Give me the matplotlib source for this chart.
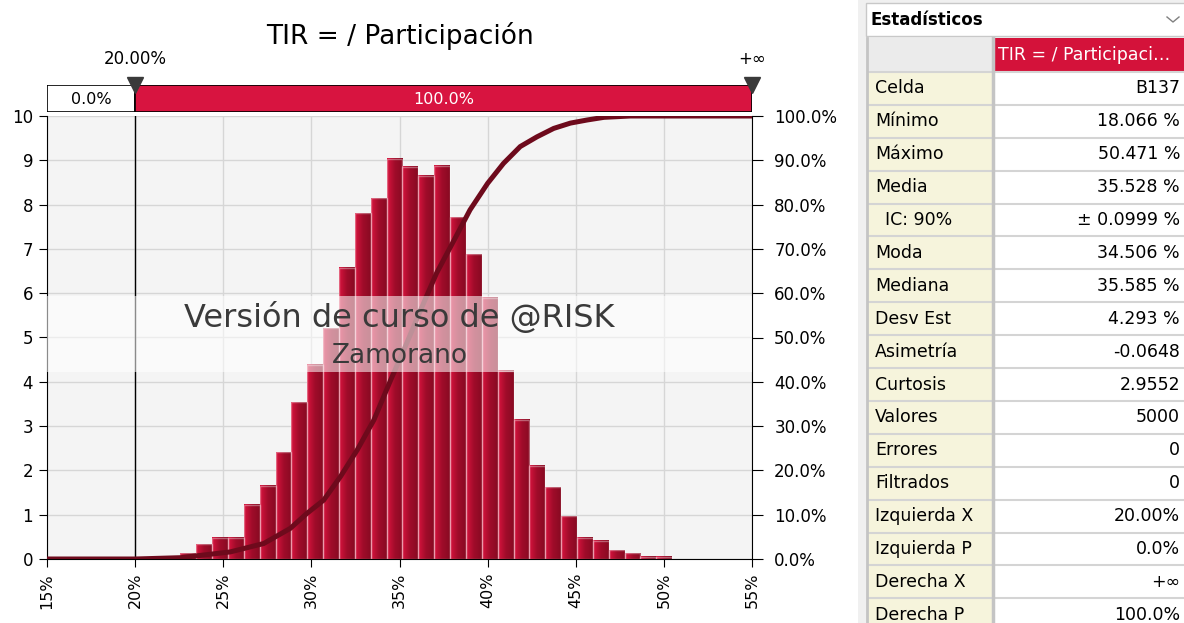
import numpy as np
import matplotlib.pyplot as plt
from matplotlib.patches import Rectangle
from matplotlib.colors import LinearSegmentedColormap

# histogram of TIR (% of values per percentage point), 36 bins from the minimum
bin_start = 18.066
bin_width = 0.9001
density = [0.02, 0.02, 0.02, 0.04, 0.04,
           0.13, 0.33, 0.48, 0.48, 1.23, 1.65, 2.41, 3.54, 4.39, 5.21, 6.58,
           7.80, 8.14, 9.04, 8.86, 8.65, 8.88, 7.71, 6.88, 5.90, 4.25, 3.14,
           2.11, 1.62, 0.96, 0.48, 0.41, 0.20, 0.13, 0.05, 0.05]

# cumulative curve (right axis, %)
cdf_x = [15.0, 20.0, 22.6, 25.4, 27.3, 28.8, 29.75, 30.7, 31.65, 32.6, 33.55,
         34.5, 35.25, 36.2, 37.1, 38.1, 39.0, 40.0, 40.9, 41.85, 42.8, 43.75,
         44.7, 45.65, 46.6, 48.1, 55.0]
cdf_y = [0.0, 0.0, 0.3, 1.6, 3.5, 6.9, 10.3, 13.3, 18.6, 24.6, 31.4,
         40.4, 47.2, 56.2, 64.5, 72.0, 78.8, 84.8, 89.3, 93.1, 95.3, 97.2,
         98.4, 99.1, 99.7, 100.0, 100.0]

x_ticks = [15, 20, 25, 30, 35, 40, 45, 50, 55]
left_x = 20.0
left_p = "0.0%"
right_p = "100.0%"

stat_names = ["Celda", "Mínimo", "Máximo", "Media", "IC: 90%", "Moda", "Mediana",
              "Desv Est", "Asimetría", "Curtosis", "Valores", "Errores", "Filtrados",
              "Izquierda X", "Izquierda P", "Derecha X", "Derecha P"]
stat_values = ["B137", "18.066 %", "50.471 %", "35.528 %", "± 0.0999 %", "34.506 %",
               "35.585 %", "4.293 %", "-0.0648", "2.9552", "5000", "0", "0",
               "20.00%", "0.0%", "+∞", "100.0%"]

RED = "#d81440"
W, H = 1184, 623
fig = plt.figure(figsize=(W / 100, H / 100), dpi=100)
plt.rcParams['font.family'] = ['DejaVu Sans']

L, R, T, B = 47, 752, 116, 559
ax = fig.add_axes([L / W, 1 - B / H, (R - L) / W, (B - T) / H])
ax.set_facecolor("#f4f4f4")
ax.set_xlim(15, 55)
ax.set_ylim(0, 10)
ax.set_axisbelow(True)
ax.grid(True, color="#d6d6d6", lw=1)
ax.set_xticks(x_ticks)
ax.set_xticklabels([f"{t}%" for t in x_ticks], rotation=90, fontsize=11.5)
ax.set_yticks(range(11))
ax.tick_params(axis='y', labelsize=12, length=6, color='black', pad=4)
ax.tick_params(axis='x', length=6, color='black', pad=4)
for s in ['top', 'right']:
    ax.spines[s].set_visible(False)
for s in ['left', 'bottom']:
    ax.spines[s].set_color('black')

# bars with a left-to-right shading
cmap = LinearSegmentedColormap.from_list("bar", ["#d8143e", "#a00c2a", "#880a22"])
grad = np.linspace(0, 1, 64).reshape(1, -1)
for i, h in enumerate(density):
    x0 = bin_start + i * bin_width
    ax.imshow(grad, extent=(x0, x0 + bin_width, 0, h), aspect='auto', cmap=cmap,
              interpolation='bilinear', zorder=2)
lefts = [bin_start + i * bin_width for i in range(len(density))]
ax.bar(lefts, density, width=bin_width, align='edge', facecolor='none',
       edgecolor=(1, 1, 1, 0.35), lw=1, zorder=2.5)
ax.set_xlim(15, 55)
ax.set_ylim(0, 10)
ax.axvline(left_x, color='black', lw=1, zorder=4)

ax2 = ax.twinx()
ax2.set_ylim(0, 100)
ax2.set_yticks(range(0, 101, 10))
ax2.set_yticklabels([f"{v:.1f}%" for v in range(0, 101, 10)])
ax2.tick_params(axis='y', labelsize=12, length=8, pad=8)
for s in ['top', 'left', 'bottom']:
    ax2.spines[s].set_visible(False)
ax2.spines['right'].set_color('black')
ax2.plot(cdf_x, cdf_y, color="#6e0a1c", lw=3.6, zorder=3, solid_joinstyle='miter')

# watermark
ax2.axhspan(42.2, 59.4, color='white', alpha=0.55, lw=0, zorder=5)
ax2.text(35, 54.4, "Versión de curso de @RISK", ha='center', va='center',
         fontsize=23, color="#3a3a3a", zorder=6)
ax2.text(35, 45.8, "Zamorano", ha='center', va='center', fontsize=19,
         color="#3a3a3a", zorder=6)

# delimiter strip
st = fig.add_axes([L / W, 1 - 112 / H, (R - L) / W, 27 / H])
st.set_xlim(15, 55)
st.set_ylim(0, 1)
st.axis('off')
st.add_patch(Rectangle((15, 0), left_x - 15, 1, facecolor='white', edgecolor='black', lw=1.2))
st.add_patch(Rectangle((left_x, 0), 55 - left_x, 1, facecolor=RED, edgecolor='black', lw=1.2))
st.text((15 + left_x) / 2, 0.45, left_p, ha='center', va='center', fontsize=11.5)
st.text((left_x + 55) / 2, 0.45, right_p, ha='center', va='center', fontsize=11.5, color='white')
st.plot([left_x, 55], [1.0, 1.0], ls='none', marker='v', ms=11, color='#3a3a3a', clip_on=False)
st.text(left_x, 1.95, "20.00%", ha='center', va='center', fontsize=12)
st.text(55, 1.95, "+∞", ha='center', va='center', fontsize=12)

fig.text(400 / W, 1 - 36 / H, "TIR = / Participación", ha='center', va='center', fontsize=19)

# statistics panel
tb = fig.add_axes([858 / W, 0, (W - 858) / W, 1])
tb.set_xlim(858, W)
tb.set_ylim(H, 0)
tb.axis('off')
tb.add_patch(Rectangle((858, 0), W - 858, H, facecolor='#f0f0f0', lw=0))
tb.add_patch(Rectangle((866, 3), W - 866 + 5, 33, facecolor='white', edgecolor='#c8c8c8', lw=1))
tb.text(870, 20, "Estadísticos", ha='left', va='center', fontsize=12, fontweight='bold')
tb.plot([1167, 1173, 1179], [17, 22, 17], color='#808080', lw=1)

top, rh = 38, 33.9
tb.add_patch(Rectangle((868, top), 124, rh, facecolor='#ebebeb', lw=0))
tb.add_patch(Rectangle((994, top), W - 994, rh, facecolor='#d4123a', lw=0))
tb.text(998, top + rh / 2, "TIR = / Participaci…", ha='left', va='center', fontsize=12.5, color='white')
for i, (n, v) in enumerate(zip(stat_names, stat_values)):
    y0 = top + rh + i * 32.9
    tb.add_patch(Rectangle((868, y0), 124, 32.9, facecolor='#f6f4dc', lw=0))
    tb.add_patch(Rectangle((994, y0), W - 994, 32.9, facecolor='white', lw=0))
    tb.plot([868, W], [y0, y0], color='#d4d4d4', lw=1.5)
    xi = 885 if n.startswith("IC") else 875
    tb.text(xi, y0 + 16.5, n, ha='left', va='center', fontsize=12.5)
    tb.text(1180, y0 + 16.5, v, ha='right', va='center', fontsize=12.5)
tb.plot([993, 993], [top, H], color='#c4c4c4', lw=2.5)
tb.plot([867, 867], [top, H], color='#c4c4c4', lw=2)

fig.savefig("out.png", dpi=100)
